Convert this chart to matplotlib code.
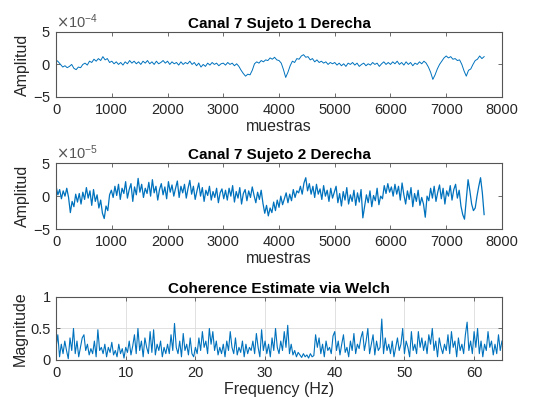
import numpy as np
import matplotlib
matplotlib.use('Agg')
import matplotlib.pyplot as plt
from matplotlib.ticker import ScalarFormatter

plt.rcParams['font.family'] = ['Liberation Sans', 'DejaVu Sans']
plt.rcParams['axes.unicode_minus'] = False

# canal 7, sujeto 1 (units of 1e-4), one value every 40 samples
s1_step = 40
s1 = [0.7, 0.4, 0.0, -0.4, -0.2, -0.5, -0.3, 0.0, -0.6, -0.8, -0.4, -0.5, 0.0,
      0.2, -0.1, 0.5, 0.3, 0.8, 0.5, 0.9, 0.6, 1.2, 0.7, 0.9, 0.3,
      0.5, 0.1, 0.4, 0.0, 0.3, -0.1, 0.4, 0.1, 0.6, 0.2, 0.5, 0.1, 0.4,
      0.0, 0.5, 0.2, 0.6, 0.1, 0.4, 0.0, 0.5, 0.1, 0.3, 0.6, 0.2,
      0.5, 0.0, 0.4, 0.1, 0.3, -0.1, 0.4, 0.0, 0.3, 0.1, 0.5, 0.0, 0.3,
      -0.2, 0.2, -0.4, 0.0, -0.3, 0.2, -0.1, 0.3, 0.0, 0.2, -0.2, 0.1,
      0.2, -0.1, 0.3, 0.0, 0.2, -0.2, 0.1, -0.3, -0.9, -1.4, -1.8, -1.5, -1.6,
      -0.9, 0.1, 0.4, 0.2, 0.6, 0.4, 0.7, 0.6, 1.0, 0.8, 1.1, 0.7,
      0.6, 0.2, -0.8, -2.0, -1.2, -0.2, 0.5, 0.3, 0.9, 0.8, 1.3, 1.5, 1.1,
      1.2, 0.7, 0.9, 0.4, 0.7, 0.3, 0.5, 0.2, 0.4, 0.0, 0.3, 0.1,
      0.3, -0.1, 0.2, -0.2, 0.1, -0.3, 0.2, 0.0, 0.3, -0.1, 0.2, -0.3, 0.0,
      0.2, -0.2, 0.1, -0.1, 0.3, 0.0, 0.2, -0.3, 0.1, 0.4, 0.0, 0.3,
      0.0, 0.4, 0.1, 0.5, 0.0, 0.3, -0.1, 0.4, 0.0, 0.3, -0.2, 0.2, 0.0,
      0.4, 0.1, 0.5, 0.2, -0.4, -1.2, -2.3, -1.6, -0.7, 0.0, 0.5, 1.0,
      1.3, 1.0, 1.2, 0.8, 0.9, 0.6, 0.7, 0.0, -1.0, -1.8, -0.9, -0.7, 0.0,
      0.6, 0.8, 1.3, 0.9, 1.2]

# canal 7, sujeto 2 (units of 1e-5), one value every 32 samples
s2_step = 32
s2 = [1.5, 0.2, 1.0, -0.4, 0.8, 0.0, 1.2, -0.2, -2.5, -0.8, -1.6, 0.3, -0.9, 0.4, -1.2, 0.6, -0.5, 1.3, -0.3, 0.8, -1.4, 1.0, -0.8, 0.2,
      -1.8, -0.6, -2.6, -3.4, -1.5, -2.2, 0.2, 0.9, -0.2, 1.5, 0.1, 1.8, -0.5, 1.2, 0.4, 2.2, -0.3, 1.0, 1.9, -0.8, 1.4, 0.2, 2.7, 0.6,
      1.8, -0.2, 1.2, 0.4, 2.1, 0.0, 2.5, 0.5, 1.5, -0.6, 1.0, 1.9, 0.2, 1.4, -0.4, 2.2, 0.6, 1.7, 0.0, 1.2, 2.3, -0.2, 1.5, 0.5,
      1.8, -0.3, 1.2, 2.4, 0.3, 1.5, -0.5, 0.8, 2.0, 0.0, 1.3, -0.8, 0.9, 0.1, 1.5, -0.6, 0.7, -0.2, 1.2, -1.0, 0.5, 1.1, -0.4, 0.9,
      -0.6, 1.2, 0.0, 1.6, -0.9, 0.7, -0.3, 1.3, -1.2, 0.4, 1.0, -0.7, 0.8, -0.2, 1.4, 0.1, -1.0, 0.6, -0.5, 0.9, -1.1, -2.6, -1.4, -3.0,
      -1.8, -2.5, -0.9, -2.2, -0.6, -1.7, 0.0, -1.3, -0.4, 0.5, -1.0, 0.3, -0.7, 1.0, -0.2, 0.8, 0.5, 1.5, 0.3, 2.0, 2.8, 0.8, 1.9, 0.3,
      1.5, -0.2, 1.8, 0.3, 1.1, -0.5, 1.6, 0.0, 0.9, -0.8, 1.2, -0.3, 0.6, 1.5, -1.0, 0.4, -1.5, 0.7, -0.6, 1.3, -1.2, 0.2, -0.8, 0.9,
      -1.4, 0.5, -0.9, 1.0, -3.3, -1.5, 0.2, -1.0, 0.8, -1.6, 0.1, -0.7, 1.2, -1.3, 0.0, -0.4, 1.6, 0.4, 1.9, 0.6, 1.4, 0.0, 1.8, 0.3,
      1.5, -0.6, 2.0, 0.2, -1.2, 0.8, -0.5, 1.3, -1.6, 0.4, -0.8, 0.9, -1.4, -0.2, -1.2, -3.2, 0.0, -0.7, 1.2, -0.3, 1.5, -0.8, 0.6, 1.7,
      -0.4, 1.2, -1.2, 0.8, 0.0, 1.6, -0.6, 1.0, 1.8, -0.3, 0.9, -1.5, -2.8, -3.5, -0.5, 2.5, 0.8, -1.2, -2.2, -1.8, 0.0, 1.5, 2.8, 0.5,
      -2.8]

# magnitude squared coherence, one value every 0.25 Hz
coh_step = 0.25
coh = [0.2, 0.4, 0.05, 0.25, 0.1, 0.3, 0.15, 0.02, 0.35, 0.15, 0.5, 0.1, 0.3, 0.05, 0.2, 0.35,
       0.4, 0.15, 0.25, 0.08, 0.18, 0.1, 0.3, 0.05, 0.48, 0.15, 0.2, 0.1, 0.25, 0.05, 0.2, 0.12,
       0.28, 0.08, 0.15, 0.05, 0.25, 0.1, 0.18, 0.03, 0.2, 0.12, 0.3, 0.08, 0.22, 0.4, 0.1, 0.5,
       0.15, 0.3, 0.05, 0.35, 0.2, 0.1, 0.45, 0.12, 0.48, 0.08, 0.25, 0.15, 0.3, 0.05, 0.2, 0.1,
       0.25, 0.1, 0.4, 0.15, 0.58, 0.2, 0.1, 0.3, 0.05, 0.42, 0.15, 0.25, 0.08, 0.35, 0.1, 0.05,
       0.2, 0.1, 0.35, 0.15, 0.45, 0.2, 0.3, 0.1, 0.5, 0.25, 0.45, 0.15, 0.3, 0.08, 0.2, 0.1,
       0.25, 0.05, 0.3, 0.15, 0.45, 0.2, 0.1, 0.35, 0.08, 0.2, 0.12, 0.3, 0.05, 0.25, 0.1, 0.2,
       0.15, 0.3, 0.1, 0.42, 0.2, 0.05, 0.48, 0.15, 0.3, 0.1, 0.25, 0.05, 0.35, 0.15, 0.5, 0.2,
       0.1, 0.3, 0.15, 0.45, 0.2, 0.55, 0.1, 0.25, 0.08, 0.15, 0.05, 0.12, 0.08, 0.04, 0.1, 0.05,
       0.08, 0.03, 0.1, 0.05, 0.07, 0.4, 0.2, 0.35, 0.1, 0.25, 0.05, 0.3, 0.15, 0.2, 0.1, 0.38,
       0.45, 0.15, 0.3, 0.08, 0.25, 0.4, 0.12, 0.2, 0.05, 0.3, 0.15, 0.42, 0.1, 0.25, 0.18, 0.35,
       0.45, 0.15, 0.3, 0.5, 0.1, 0.25, 0.4, 0.08, 0.3, 0.15, 0.2, 0.65, 0.1, 0.35, 0.15, 0.25,
       0.1, 0.3, 0.05, 0.2, 0.35, 0.15, 0.25, 0.5, 0.1, 0.3, 0.2, 0.05, 0.45, 0.15, 0.25, 0.1,
       0.45, 0.2, 0.35, 0.15, 0.3, 0.1, 0.4, 0.25, 0.5, 0.15, 0.3, 0.05, 0.35, 0.2, 0.1, 0.25,
       0.15, 0.4, 0.1, 0.45, 0.2, 0.3, 0.05, 0.35, 0.15, 0.25, 0.1, 0.4, 0.6, 0.15, 0.3, 0.1,
       0.45, 0.2, 0.5, 0.1, 0.3, 0.05, 0.25, 0.15, 0.45, 0.2, 0.3, 0.08, 0.25, 0.1, 0.4, 0.15,
       0.3]

blue = '#0072BD'
edge = '#555555'
txt = '#262626'


def style(ax):
    for sp in ax.spines.values():
        sp.set_color(edge)
        sp.set_linewidth(0.8)
    ax.tick_params(direction='in', top=True, right=True, length=3,
                   width=0.6, color=edge, labelcolor=txt, labelsize=10.5,
                   pad=4)


fig = plt.figure(figsize=(5.34, 4.04), dpi=100)
left, width = 0.105, 0.835
ax1 = fig.add_axes([left, 0.760, width, 0.161])
ax2 = fig.add_axes([left, 0.433, width, 0.163])
ax3 = fig.add_axes([left, 0.109, width, 0.156])

x1 = np.arange(len(s1)) * s1_step
ax1.plot(x1, np.array(s1) * 1e-4, color=blue, lw=0.7)
x2 = np.arange(len(s2)) * s2_step
ax2.plot(x2, np.array(s2) * 1e-5, color=blue, lw=0.9)
f = np.arange(len(coh)) * coh_step
ax3.plot(f, coh, color=blue, lw=0.8)

for ax, title, lim in [(ax1, 'Canal 7 Sujeto 1 Derecha', 5e-4),
                       (ax2, 'Canal 7 Sujeto 2 Derecha', 5e-5)]:
    style(ax)
    ax.set_xlim(0, 8000)
    ax.set_ylim(-lim, lim)
    ax.set_yticks([-lim, 0, lim])
    ax.set_xticks(range(0, 8001, 1000))
    fmt = ScalarFormatter(useMathText=True)
    fmt.set_powerlimits((0, 0))
    ax.yaxis.set_major_formatter(fmt)
    ax.yaxis.get_offset_text().set_fontsize(10.5)
    ax.yaxis.get_offset_text().set_color('#555555')
    ax.set_title(title, fontsize=11, fontweight='bold', color='black', pad=3)
    ax.set_xlabel('muestras', fontsize=11.5, color=txt, labelpad=2)
    ax.set_ylabel('Amplitud', fontsize=11.5, color=txt, labelpad=2)

style(ax3)
ax3.set_xlim(0, 64)
ax3.set_ylim(0, 1)
ax3.set_xticks(range(0, 61, 10))
ax3.set_yticks([0, 0.5, 1])
ax3.set_yticklabels(['0', '0.5', '1'])
ax3.grid(True, color='#dcdcdc', lw=0.6)
ax3.set_axisbelow(True)
ax3.set_title('Coherence Estimate via Welch', fontsize=11, fontweight='bold',
              color='black', pad=3)
ax3.set_xlabel('Frequency (Hz)', fontsize=11.5, color=txt, labelpad=2)
ax3.set_ylabel('Magnitude', fontsize=11.5, color=txt, labelpad=2)

fig.savefig('out.png', dpi=100)
